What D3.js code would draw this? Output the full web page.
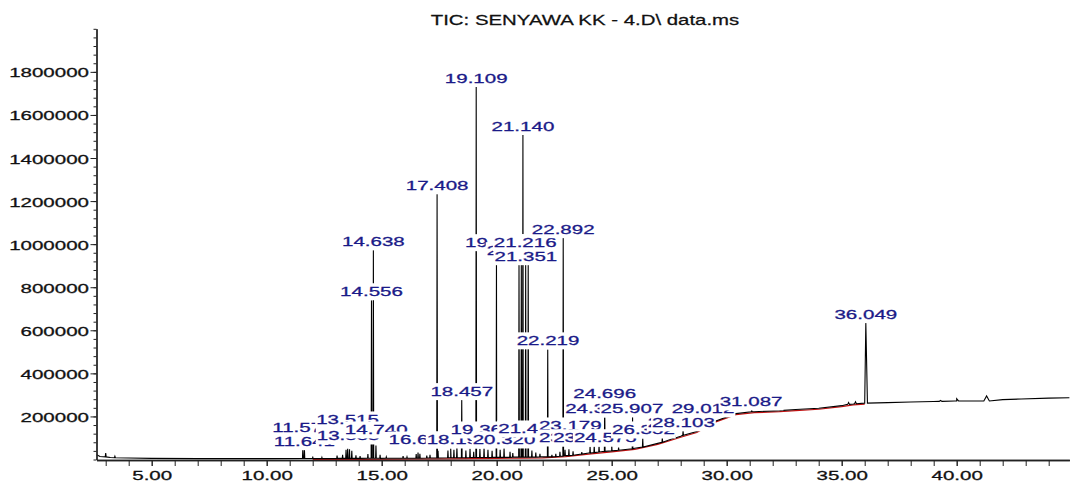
<!DOCTYPE html>
<html>
<head>
<meta charset="utf-8">
<title>TIC</title>
<script src="https://cdn.jsdelivr.net/npm/d3@7"></script>
<style>
body { margin:0; background:#fff; }
text { font-family: "Liberation Sans", Arial, sans-serif; }
</style>
</head>
<body>
<script>
var titleText = "TIC: SENYAWA KK - 4.D\\ data.ms";

var yTicks = [200000, 400000, 600000, 800000, 1000000, 1200000, 1400000, 1600000, 1800000];
var xTicks = [5, 10, 15, 20, 25, 30, 35, 40];

// baseline readings [time, abundance]
var baseline = [[2.61,22000],[2.75,14000],[3.2,9000],[4,7000],[5,5000],[7,4000],[10,4000],[12,4500],
  [14,5000],[16,6000],[18,8000],[20,10000],[21,11000],[22,12000],[23,18000],[24,30000],[25,40000],
  [26,52000],[27,75000],[28,108000],[28.7,130000],[29.5,178000],[30.4,213000],[31.2,222000],
  [32.3,227000],[33,232000],[34,238000],[35,250000],[35.5,258000],[36,262000],[37,264000],
  [38,267000],[39,269000],[40,272000],[41,272000],[42,278000],[42.8,281000],[44,285000],[44.9,287000]];

// peaks [time, top, base, half width (min)]
var peaks = [[3.0,30000,12000,0.02],[3.4,15000,8000,0.02],
  [11.57,50000,4500,0.015],[11.64,48000,4500,0.015],[12.0,14000,4500,0.015],[12.4,10000,4500,0.015],
  [13.06,18000,5000,0.015],[13.3,22000,5000,0.015],[13.45,45000,5000,0.015],[13.52,50000,5000,0.015],
  [13.6,48000,5000,0.015],[13.7,40000,5000,0.015],[13.88,20000,5000,0.015],[14.06,16000,5000,0.015],
  [14.4,25000,5500,0.015],[14.556,740000,5500,0.015],[14.638,972000,5500,0.015],[14.75,65000,5500,0.015],
  [14.93,22000,5500,0.015],[15.2,12000,6000,0.015],[15.93,16000,6000,0.015],[16.1,12000,6000,0.015],
  [16.5,25000,6000,0.015],[16.58,32000,6000,0.015],[16.66,26000,6000,0.015],[16.96,18000,7000,0.015],
  [17.1,22000,7000,0.015],[17.408,1232000,7000,0.015],[17.45,40000,7000,0.015],[17.88,42000,8000,0.015],
  [18.0,55000,8000,0.015],[18.14,45000,8000,0.015],[18.27,58000,8000,0.015],[18.48,276000,8000,0.015],
  [18.66,42000,8000,0.015],[18.84,50000,9000,0.015],[19.0,36000,9000,0.015],[19.109,1730000,9000,0.015],
  [19.27,50000,9000,0.015],[19.45,56000,9000,0.015],[19.62,45000,9000,0.015],[19.8,40000,10000,0.015],
  [19.99,932000,10000,0.015],[20.15,45000,10000,0.015],[20.32,52000,10000,0.015],[20.58,36000,10000,0.015],
  [20.7,30000,11000,0.015],[20.97,905000,11000,0.015],[21.07,905000,11000,0.015],[21.14,1507000,11000,0.015],
  [21.26,905000,11000,0.015],[21.37,905000,11000,0.015],[21.53,42000,11000,0.015],[21.7,32000,11000,0.015],
  [21.88,26000,12000,0.015],[22.219,511000,12000,0.015],[22.4,22000,12000,0.015],[22.57,26000,13000,0.015],
  [22.75,36000,15000,0.015],[22.892,1028000,16000,0.015],[22.97,45000,18000,0.015],[23.14,48000,18000,0.015],
  [23.32,38000,20000,0.015],[23.7,34000,25000,0.015],[24.06,60000,30000,0.015],[24.24,62000,32000,0.015],
  [24.45,63000,35000,0.015],[24.696,265000,38000,0.015],[25.0,72000,40000,0.015],[25.3,55000,43000,0.015],
  [25.907,197000,50000,0.015],[26.35,97000,58000,0.015],[27.2,101000,80000,0.015],[27.75,112000,100000,0.015],
  [28.103,132000,112000,0.015],[29.012,195000,150000,0.015],[31.087,228000,222000,0.02],
  [35.3,265000,256000,0.04],[35.6,268000,259000,0.04],[36.049,633500,262000,0.07],
  [39.3,274000,270000,0.06],[40.0,282000,272000,0.08],[41.3,295000,272000,0.12]];

// peak labels [text, time, level at bottom of label]
var labels = [["11.574",11.574,107000],["11.641",11.64,43300],["13.515",13.515,144200],["13.553",13.54,69800],
  ["14.556",14.556,739500],["14.638",14.638,972100],["14.740",14.76,97700],["16.648",16.66,51200],
  ["17.408",17.408,1232600],["18.195",18.32,51200],["18.457",18.48,275800],["19.109",19.109,1730200],
  ["19.364",19.36,97700],["19.968",19.99,967400],["20.320",20.32,51200],["20.958",20.93,930200],
  ["21.140",21.14,1507000],["21.216",21.24,967400],["21.351",21.27,902300],["21.433",21.43,102300],
  ["22.219",22.23,511600],["22.892",22.892,1027900],["23.179",23.2,116300],["23.163",23.2,60500],
  ["23.790",23.82,60500],["24.342",24.34,195300],["24.575",24.72,60500],["24.696",24.696,265100],
  ["25.907",25.88,195300],["26.352",26.38,97700],["27.928",27.93,131600],["28.103",28.12,131600],
  ["29.012",28.97,195300],["31.087",31.06,227900],["36.049",36.049,633500]];

var W = 1070, H = 482, sx = 1.52;

var svg = d3.select("body").append("svg").attr("width", W).attr("height", H);

var x = d3.scaleLinear().domain([2.6, 44.9]).range([96.5, 1069.4]);
var y = d3.scaleLinear().domain([0, 2000000]).range([459.5, 28.8]);

// title
svg.append("text").text(titleText)
  .attr("transform", "translate(585,25) scale(1.36,1)")
  .attr("text-anchor", "middle").attr("font-size", 15).attr("fill", "#111")
  .attr("stroke", "#111").attr("stroke-width", 0.25);

// red integration baseline
var redPts = baseline.filter(function(d){ return d[0] >= 11.3 && d[0] <= 36.3; });
svg.append("path").datum(redPts)
  .attr("d", d3.line().x(function(d){ return x(d[0]); }).y(function(d){ return y(d[1]) + 1; }))
  .attr("fill", "none").attr("stroke", "#c01010").attr("stroke-width", 1.2);

// trace: baseline readings merged with peaks
var pts = baseline.map(function(d){ return [d[0], d[1]]; });
peaks.forEach(function(p){
  pts.push([p[0] - p[3], p[2]]);
  pts.push([p[0], p[1]]);
  pts.push([p[0] + p[3], p[2]]);
});
pts.sort(function(a, b){ return a[0] - b[0]; });

svg.append("path").datum(pts)
  .attr("d", d3.line().x(function(d){ return x(d[0]); }).y(function(d){ return y(d[1]); }))
  .attr("fill", "none").attr("stroke", "#000").attr("stroke-width", 1.1)
  .attr("stroke-linejoin", "miter");

// labels with white boxes, in time order
var lab = svg.append("g");
labels.slice().sort(function(a, b){ return a[1] - b[1]; }).forEach(function(d){
  var g = lab.append("g").attr("transform", "translate(" + x(d[1]) + "," + y(d[2]) + ")");
  var r = g.append("rect").attr("fill", "#fff");
  var t = g.append("text").text(d[0])
    .attr("transform", "translate(0,-4) scale(" + sx + ",1)")
    .attr("text-anchor", "middle").attr("font-size", 13.5).attr("fill", "#1a1a88")
    .attr("stroke", "#1a1a88").attr("stroke-width", 0.3);
  var w = t.node().getComputedTextLength() * sx + 2;
  r.attr("x", -w / 2).attr("y", -17).attr("width", w).attr("height", 17);
});

// x axis
var xAxis = svg.append("g").attr("transform", "translate(0,460)")
  .call(d3.axisBottom(x).tickValues(xTicks).tickSize(6).tickSizeOuter(0)
    .tickFormat(function(d){ return d.toFixed(2); }));
svg.append("g").attr("transform", "translate(0,460)")
  .call(d3.axisBottom(x).tickValues(d3.range(3, 45)).tickSize(6).tickSizeOuter(0).tickFormat(""));
xAxis.selectAll("text").attr("y", 0).attr("dy", 0)
  .attr("transform", "translate(0,20) scale(" + sx + ",1)")
  .attr("font-size", 13.5).attr("font-family", "Liberation Sans, Arial, sans-serif")
  .attr("fill", "#111").attr("stroke", "#111").attr("stroke-width", 0.3);

// y axis
var yAxis = svg.append("g").attr("transform", "translate(96.5,0)")
  .call(d3.axisLeft(y).tickValues(yTicks).tickSize(6).tickSizeOuter(0)
    .tickFormat(function(d){ return String(d); }));
svg.append("g").attr("transform", "translate(96.5,0)")
  .call(d3.axisLeft(y).tickValues(d3.range(0, 2000001, 40000)).tickSize(3).tickSizeOuter(0).tickFormat(""));
yAxis.selectAll("text").attr("x", 0).attr("dy", 0)
  .attr("transform", "translate(-7.5,5) scale(" + sx + ",1)")
  .attr("font-size", 13.5).attr("font-family", "Liberation Sans, Arial, sans-serif")
  .attr("fill", "#111").attr("stroke", "#111").attr("stroke-width", 0.3);

svg.selectAll(".domain").attr("stroke", "#222").attr("stroke-width", 1.3);
svg.selectAll(".tick line").attr("stroke", "#222");
</script>
</body>
</html>
